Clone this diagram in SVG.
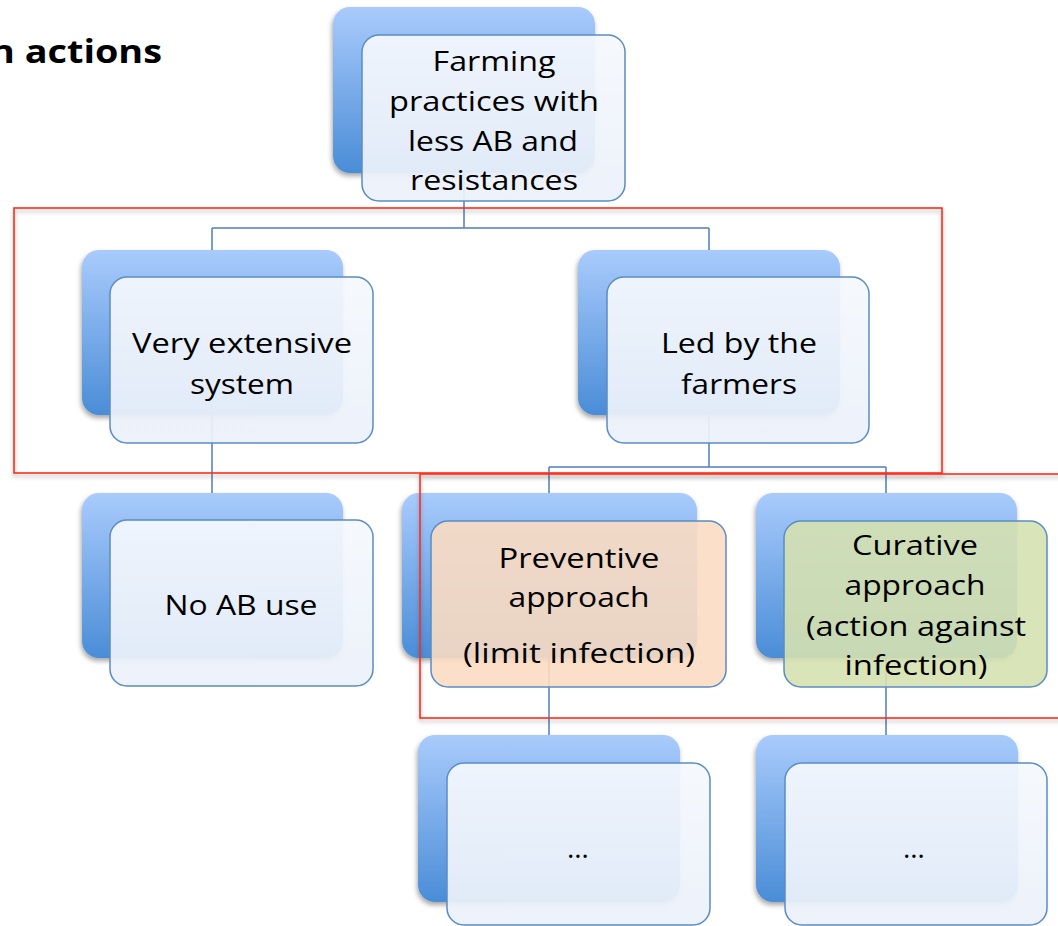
<svg xmlns="http://www.w3.org/2000/svg" width="1058" height="926" viewBox="0 0 1058 926">
  <defs>
    <linearGradient id="backGrad" x1="0" y1="0" x2="0" y2="1">
      <stop offset="0" stop-color="#a9cbfc"/>
      <stop offset="1" stop-color="#4a8dd7"/>
    </linearGradient>
    <linearGradient id="frontGrad" x1="0" y1="0" x2="0" y2="1">
      <stop offset="0" stop-color="#f5f8fd"/>
      <stop offset="1" stop-color="#ebf1fa"/>
    </linearGradient>
    <filter id="shadow" x="-10%" y="-10%" width="125%" height="125%">
      <feDropShadow dx="-1" dy="3" stdDeviation="2.5" flood-color="#000" flood-opacity="0.35"/>
    </filter>
    <filter id="redShadow" x="-5%" y="-5%" width="110%" height="115%">
      <feDropShadow dx="0" dy="3" stdDeviation="2" flood-color="#000" flood-opacity="0.3"/>
    </filter>
  </defs>
  <style>
    .back { fill: url(#backGrad); filter: url(#shadow); }
    .front { fill: url(#frontGrad); fill-opacity: 0.93; stroke: #5b8cc4; stroke-width: 1.5; }
    .prev { fill: #fbdcc2; fill-opacity: 0.9; stroke: #5b8cc4; stroke-width: 1.5; }
    .cur { fill: #d5e1b0; fill-opacity: 0.9; stroke: #5b8cc4; stroke-width: 1.5; }
    .conn { fill: none; stroke: #4f7fb8; stroke-width: 1.5; }
    .frame { fill: none; stroke: #ff2a17; stroke-width: 1.6; filter: url(#redShadow); }
    .label { font-family: "Open Sans", "Liberation Sans", sans-serif; font-size: 28px; fill: #000; text-anchor: middle; }
    .title { font-family: "Open Sans", "Liberation Sans", sans-serif; font-size: 32px; font-weight: bold; fill: #000; text-anchor: end; }
  </style>

  <rect width="1058" height="926" fill="#ffffff"/>

  <text class="title" x="162" y="63" textLength="172" lengthAdjust="spacingAndGlyphs">n actions</text>

  <!-- connectors between levels -->
  <g id="connectors">
    <path class="conn" d="M464 173 V228 M212 228 H709 M212 228 V250 M709 228 V250"/>
    <path class="conn" d="M212 415 V493"/>
    <path class="conn" d="M709 415 V467 M549 467 H886 M549 467 V493 M886 467 V493"/>
    <path class="conn" d="M549 658 V735 M886 658 V735"/>
  </g>

  <g id="node-root">
    <rect class="back" x="333" y="7" width="262" height="166" rx="17"/>
    <rect class="front" x="362" y="35" width="263" height="166" rx="17"/>
    <text class="label" x="494" y="71" textLength="123" lengthAdjust="spacingAndGlyphs">Farming</text>
    <text class="label" x="494" y="111" textLength="210" lengthAdjust="spacingAndGlyphs">practices with</text>
    <text class="label" x="493" y="151" textLength="170" lengthAdjust="spacingAndGlyphs">less AB and</text>
    <text class="label" x="494" y="190" textLength="168" lengthAdjust="spacingAndGlyphs">resistances</text>
  </g>

  <g id="node-extensive">
    <rect class="back" x="82" y="250" width="261" height="165" rx="17"/>
    <rect class="front" x="110" y="277" width="263" height="166" rx="17"/>
    <text class="label" x="242" y="353" textLength="220" lengthAdjust="spacingAndGlyphs">Very extensive</text>
    <text class="label" x="242" y="394" textLength="104" lengthAdjust="spacingAndGlyphs">system</text>
  </g>

  <g id="node-farmers">
    <rect class="back" x="578" y="250" width="262" height="165" rx="17"/>
    <rect class="front" x="607" y="277" width="262" height="166" rx="17"/>
    <text class="label" x="739" y="353" textLength="156" lengthAdjust="spacingAndGlyphs">Led by the</text>
    <text class="label" x="739" y="394" textLength="116" lengthAdjust="spacingAndGlyphs">farmers</text>
  </g>

  <g id="node-noab">
    <rect class="back" x="82" y="493" width="261" height="165" rx="17"/>
    <rect class="front" x="110" y="520" width="263" height="166" rx="17"/>
    <text class="label" x="241" y="615" textLength="153" lengthAdjust="spacingAndGlyphs">No AB use</text>
  </g>

  <g id="node-preventive">
    <rect class="back" x="402" y="493" width="295" height="165" rx="17"/>
    <rect class="prev" x="431" y="521" width="295" height="166" rx="17"/>
    <text class="label" x="579" y="568" textLength="161" lengthAdjust="spacingAndGlyphs">Preventive</text>
    <text class="label" x="579" y="607" textLength="141" lengthAdjust="spacingAndGlyphs">approach</text>
    <text class="label" x="579" y="663" textLength="232" lengthAdjust="spacingAndGlyphs">(limit infection)</text>
  </g>

  <g id="node-curative">
    <rect class="back" x="756" y="493" width="261" height="165" rx="17"/>
    <rect class="cur" x="784" y="521" width="263" height="166" rx="17"/>
    <text class="label" x="915" y="555" textLength="126" lengthAdjust="spacingAndGlyphs">Curative</text>
    <text class="label" x="915" y="595" textLength="141" lengthAdjust="spacingAndGlyphs">approach</text>
    <text class="label" x="916" y="636" textLength="220" lengthAdjust="spacingAndGlyphs">(action against</text>
    <text class="label" x="916" y="675" textLength="143" lengthAdjust="spacingAndGlyphs">infection)</text>
  </g>

  <g id="node-more-prev">
    <rect class="back" x="418" y="735" width="262" height="167" rx="17"/>
    <rect class="front" x="447" y="763" width="263" height="162" rx="17"/>
    <text class="label" x="578" y="858">…</text>
  </g>

  <g id="node-more-cur">
    <rect class="back" x="756" y="735" width="262" height="167" rx="17"/>
    <rect class="front" x="785" y="763" width="262" height="162" rx="17"/>
    <text class="label" x="914" y="858">…</text>
  </g>

  <!-- red highlight frames -->
  <rect class="frame" x="14" y="208" width="928" height="265"/>
  <rect class="frame" x="420" y="474" width="660" height="244"/>
</svg>
